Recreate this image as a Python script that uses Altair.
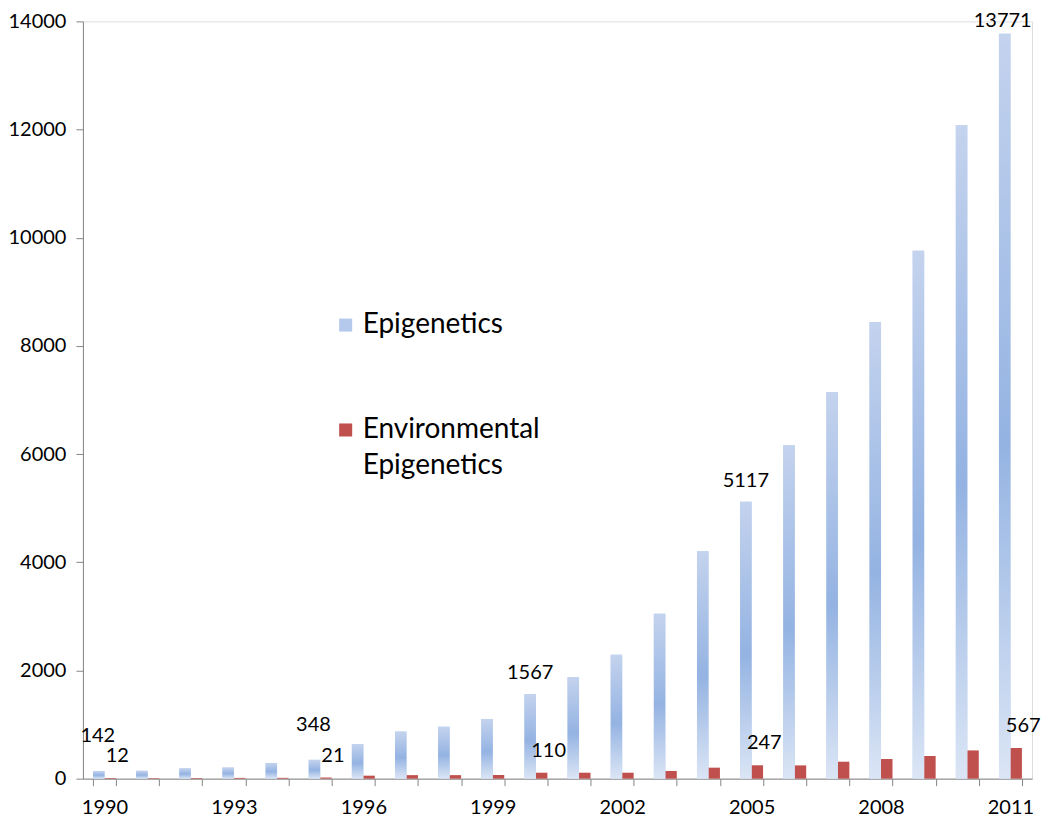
import altair as alt
import pandas as pd

years = list(range(1990, 2012))
series = ["Epigenetics", "Environmental Epigenetics"]
epigenetics = [142, 145, 190, 205, 290, 348, 640, 870, 960, 1100, 1567, 1880,
               2290, 3050, 4205, 5117, 6165, 7150, 8440, 9760, 12080, 13771]
environmental = [12, 10, 12, 14, 15, 21, 55, 65, 65, 68, 110, 110,
                 110, 142, 203, 247, 245, 313, 363, 419, 522, 567]
labelled_years = [1990, 1995, 2000, 2005, 2011]
early_label_years = [1990, 1995]
top_label_years = [2011]
y_ticks = [0, 2000, 4000, 6000, 8000, 10000, 12000, 14000]

rows = []
for s, vals in zip(series, [epigenetics, environmental]):
    for yr, v in zip(years, vals):
        grp = "early" if yr in early_label_years else ("top" if yr in top_label_years else "mid")
        rows.append({"Year": yr, "Series": s, "Value": v,
                     "Label": str(v) if yr in labelled_years else "",
                     "Group": grp})
df = pd.DataFrame(rows)

FONT = "Lato"

x_enc = alt.X("Year:O",
              scale=alt.Scale(paddingInner=0.468, paddingOuter=0.234),
              axis=alt.Axis(title=None, tickBand="extent", labelAngle=0,
                            labelExpr="(toNumber(datum.value) - 1990) % 3 == 0 ? datum.label : ''",
                            labelFont=FONT, labelFontSize=20, labelColor="#000000",
                            labelPadding=12, tickSize=7, tickColor="#868686",
                            domainColor="#868686"))
xoff_enc = alt.XOffset("Series:N", sort=series,
                       scale=alt.Scale(domain=series, paddingInner=0, paddingOuter=0))
y_enc = alt.Y("Value:Q",
              scale=alt.Scale(domain=[0, 14000], nice=False),
              axis=alt.Axis(title=None, values=y_ticks, grid=False, format="d",
                            labelFont=FONT, labelFontSize=20, labelColor="#000000",
                            labelPadding=10, tickSize=7, tickColor="#868686",
                            domainColor="#868686"))

base = alt.Chart(df)

bars = base.mark_bar().encode(
    x=x_enc, xOffset=xoff_enc, y=y_enc,
    color=alt.Color("Series:N",
                    scale=alt.Scale(domain=series, range=["#b4c9ec", "#c0504d"]),
                    legend=alt.Legend(title=None, orient="none", legendX=249, legendY=290,
                                      symbolType="square", symbolSize=170,
                                      symbolStrokeWidth=0,
                                      labelFont=FONT, labelFontSize=28,
                                      labelColor="#000000", labelLimit=400,
                                      labelOffset=3, rowPadding=77,
                                      labelExpr="datum.label == 'Environmental Epigenetics' ? ['Environmental', 'Epigenetics'] : datum.label")),
)

gradient = alt.Gradient(
    gradient="linear", x1=0, x2=0, y1=0, y2=1,
    stops=[alt.GradientStop(offset=0, color="#c4d3ee"),
           alt.GradientStop(offset=0.55, color="#94b3e2"),
           alt.GradientStop(offset=1, color="#dbe5f5")])

grad_bars = base.transform_filter(alt.datum.Series == "Epigenetics").mark_bar(
    fill=gradient).encode(x=x_enc, xOffset=xoff_enc, y=y_enc)


def labels(series_name, group_test, dx, dy):
    return base.transform_filter(
        (alt.datum.Series == series_name) & (alt.datum.Label != "") & group_test
    ).mark_text(font=FONT, fontSize=20, color="#000000", baseline="middle",
                dx=dx, dy=dy).encode(x=x_enc, xOffset=xoff_enc, y=y_enc, text="Label:N")


blue_mid = labels("Epigenetics", alt.datum.Group == "mid", 0, -21)
blue_early = labels("Epigenetics", alt.datum.Group == "early", -1, -35)
blue_top = labels("Epigenetics", alt.datum.Group == "top", -2, -13)
red_labels = labels("Environmental Epigenetics", alt.datum.Label != "", 7, -22)

chart = alt.layer(bars, grad_bars, blue_mid, blue_early, blue_top, red_labels).properties(
    width=950, height=758,
    autosize=alt.AutoSizeParams(type="none"),
    padding={"left": 75, "top": 13, "right": 10, "bottom": 40},
).configure_view(stroke=None).configure(style={"guide-label": {"lineHeight": 36}})

chart.save("out.html", embed_options={"renderer": "svg", "actions": False})
